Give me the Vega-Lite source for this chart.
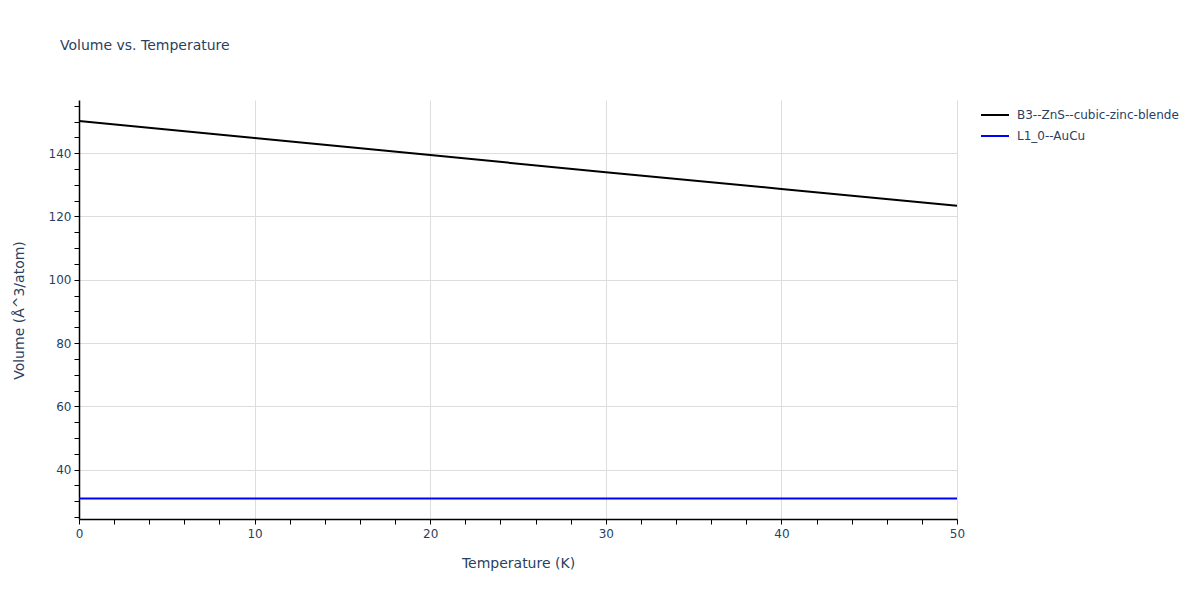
{
  "$schema": "https://vega.github.io/schema/vega-lite/v6.json",
  "autosize": {"type": "none"},
  "width": 878,
  "height": 419,
  "padding": {"left": 79, "top": 100, "right": 243, "bottom": 81},
  "background": "white",
  "title": {
    "text": "Volume vs. Temperature",
    "anchor": "start",
    "frame": "group",
    "dx": -19,
    "offset": 40,
    "baseline": "middle",
    "font": "DejaVu Sans",
    "fontSize": 14,
    "fontWeight": "normal",
    "color": "#2a3f5f"
  },
  "config": {
    "view": {"stroke": null},
    "font": "DejaVu Sans"
  },
  "data": {
    "values": [
      {"T": 0, "V": 150.2, "series": "B3--ZnS--cubic-zinc-blende"},
      {"T": 10, "V": 144.8, "series": "B3--ZnS--cubic-zinc-blende"},
      {"T": 20, "V": 139.4, "series": "B3--ZnS--cubic-zinc-blende"},
      {"T": 30, "V": 134.0, "series": "B3--ZnS--cubic-zinc-blende"},
      {"T": 40, "V": 128.7, "series": "B3--ZnS--cubic-zinc-blende"},
      {"T": 50, "V": 123.4, "series": "B3--ZnS--cubic-zinc-blende"},
      {"T": 0, "V": 30.9, "series": "L1_0--AuCu"},
      {"T": 10, "V": 30.9, "series": "L1_0--AuCu"},
      {"T": 20, "V": 30.9, "series": "L1_0--AuCu"},
      {"T": 30, "V": 30.9, "series": "L1_0--AuCu"},
      {"T": 40, "V": 30.9, "series": "L1_0--AuCu"},
      {"T": 50, "V": 30.9, "series": "L1_0--AuCu"}
    ]
  },
  "mark": {"type": "line", "strokeWidth": 2, "clip": true},
  "encoding": {
    "x": {
      "field": "T",
      "type": "quantitative",
      "scale": {"domain": [0, 50], "nice": false, "zero": false},
      "axis": {
        "title": "Temperature (K)",
        "values": [0,2,4,6,8,10,12,14,16,18,20,22,24,26,28,30,32,34,36,38,40,42,44,46,48,50],
        "labelExpr": "datum.value % 10 === 0 ? datum.label : ''",
        "gridColor": "#dddddd",
        "gridOpacity": {"condition": {"test": "datum.value % 10 === 0 && datum.value > 0", "value": 1}, "value": 0},
        "domainColor": "#000000",
        "domainWidth": 1.5,
        "tickColor": "#000000",
        "tickSize": 5,
        "labelPadding": 4,
        "labelColor": "#2a3f5f",
        "labelFont": "DejaVu Sans",
        "labelFontSize": 12,
        "labelFlush": false,
        "titleFont": "DejaVu Sans",
        "titleFontSize": 14,
        "titleFontWeight": "normal",
        "titleColor": "#2a3f5f",
        "titleX": 439,
        "titleY": 44,
        "titleBaseline": "middle",
        "titleAlign": "center"
      }
    },
    "y": {
      "field": "V",
      "type": "quantitative",
      "scale": {"domain": [24.4, 156.8], "nice": false, "zero": false},
      "axis": {
        "title": "Volume (Å^3/atom)",
        "values": [25,30,35,40,45,50,55,60,65,70,75,80,85,90,95,100,105,110,115,120,125,130,135,140,145,150,155],
        "labelExpr": "datum.value % 20 === 0 ? datum.label : ''",
        "gridColor": "#dddddd",
        "gridOpacity": {"condition": {"test": "datum.value % 20 === 0", "value": 1}, "value": 0},
        "domainColor": "#000000",
        "domainWidth": 1.5,
        "tickColor": "#000000",
        "tickSize": 5,
        "labelPadding": 3,
        "labelColor": "#2a3f5f",
        "labelFont": "DejaVu Sans",
        "labelFontSize": 12,
        "labelFlush": false,
        "titleFont": "DejaVu Sans",
        "titleFontSize": 14,
        "titleFontWeight": "normal",
        "titleColor": "#2a3f5f",
        "titleX": -60,
        "titleY": 210,
        "titleBaseline": "middle",
        "titleAlign": "center",
        "titleAngle": -90
      }
    },
    "color": {
      "field": "series",
      "type": "nominal",
      "scale": {"domain": ["B3--ZnS--cubic-zinc-blende", "L1_0--AuCu"], "range": ["#000000", "#0000ff"]},
      "legend": {
        "title": null,
        "orient": "none",
        "legendX": 901,
        "legendY": 0,
        "symbolType": "stroke",
        "symbolSize": 784,
        "symbolStrokeWidth": 2,
        "labelFont": "DejaVu Sans",
        "labelFontSize": 12,
        "labelColor": "#2a3f5f",
        "labelOffset": 7,
        "labelLimit": 0,
        "rowPadding": -4
      }
    }
  }
}
